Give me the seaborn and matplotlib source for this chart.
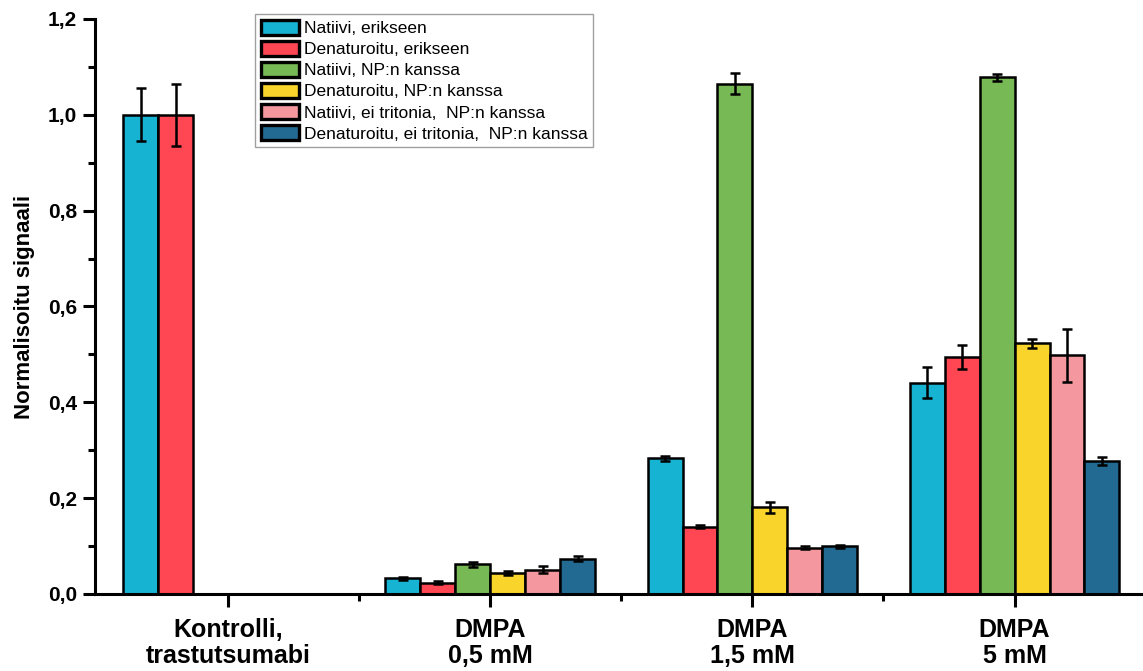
import numpy as np
import pandas as pd
import matplotlib
matplotlib.use("Agg")
import matplotlib.pyplot as plt
import seaborn as sns
from matplotlib.patches import Patch
from matplotlib.ticker import MultipleLocator, FixedLocator, FuncFormatter

# ---------------- data ----------------
groups = ["Kontrolli,\ntrastutsumabi", "DMPA\n0,5 mM", "DMPA\n1,5 mM", "DMPA\n5 mM"]
series = ["Natiivi, erikseen", "Denaturoitu, erikseen", "Natiivi, NP:n kanssa",
          "Denaturoitu, NP:n kanssa", "Natiivi, ei tritonia,  NP:n kanssa",
          "Denaturoitu, ei tritonia,  NP:n kanssa"]
colors = ["#17B3D2", "#FF4653", "#77B955", "#F9D42B", "#F4979F", "#236A93"]

nan = np.nan
natiivi_erikseen = [1.000, 0.033, 0.283, 0.441]
natiivi_erikseen_err = [0.055, 0.003, 0.006, 0.032]
denat_erikseen = [1.000, 0.024, 0.140, 0.494]
denat_erikseen_err = [0.065, 0.003, 0.003, 0.025]
natiivi_np = [nan, 0.062, 1.065, 1.078]
natiivi_np_err = [nan, 0.005, 0.022, 0.007]
denat_np = [nan, 0.044, 0.181, 0.523]
denat_np_err = [nan, 0.004, 0.011, 0.010]
natiivi_eitr = [nan, 0.051, 0.097, 0.498]
natiivi_eitr_err = [nan, 0.007, 0.003, 0.056]
denat_eitr = [nan, 0.074, 0.100, 0.277]
denat_eitr_err = [nan, 0.006, 0.003, 0.008]

values = [natiivi_erikseen, denat_erikseen, natiivi_np, denat_np, natiivi_eitr, denat_eitr]
errors = [natiivi_erikseen_err, denat_erikseen_err, natiivi_np_err, denat_np_err,
          natiivi_eitr_err, denat_eitr_err]

rows = []
for s, vals, errs in zip(series, values, errors):
    for g, v, e in zip(groups, vals, errs):
        if not np.isnan(v):
            rows.append({"group": g, "series": s, "value": v, "err": e})
df = pd.DataFrame(rows)

# ---------------- plot ----------------
sns.set_theme(style="ticks")
plt.rcParams["font.family"] = ["Liberation Sans", "DejaVu Sans"]
plt.rcParams["text.color"] = "black"
plt.rcParams["xtick.color"] = "black"
plt.rcParams["ytick.color"] = "black"
plt.rcParams["axes.labelcolor"] = "black"

fig = plt.figure(figsize=(11.43, 6.71), dpi=100)
ax = fig.add_axes([95 / 1143, 77 / 671, 1048 / 1143, 575 / 671])

sns.barplot(data=df, x="group", y="value", hue="series", order=groups,
            hue_order=series, palette=colors, edgecolor="black", linewidth=1.8,
            errorbar=None, width=0.8, saturation=1, ax=ax, legend=False)

# error bars
bar_containers = list(ax.containers)
for s_idx, cont in enumerate(bar_containers):
    s = series[s_idx]
    xs, ys, es = [], [], []
    for bar in cont:
        cx = bar.get_x() + bar.get_width() / 2
        g = groups[int(round(cx))]
        sub = df[(df.series == s) & (df.group == g)]
        if len(sub) == 0:
            continue
        xs.append(cx)
        ys.append(bar.get_height())
        es.append(sub["err"].iloc[0])
    ax.errorbar(xs, ys, yerr=es, fmt="none", ecolor="black", elinewidth=1.8,
                capsize=3.5, capthick=1.8, zorder=5)

ax.set_xlim(-0.508, 3.49)
ax.set_ylim(0, 1.2)

for sp in ["top", "right"]:
    ax.spines[sp].set_visible(False)
for sp in ["left", "bottom"]:
    ax.spines[sp].set_linewidth(2.2)
    ax.spines[sp].set_color("black")

ax.yaxis.set_major_locator(MultipleLocator(0.2))
ax.yaxis.set_minor_locator(MultipleLocator(0.1))
ax.yaxis.set_major_formatter(FuncFormatter(lambda v, p: f"{v:.1f}".replace(".", ",")))
ax.xaxis.set_minor_locator(FixedLocator([0.5, 1.5, 2.5]))

ax.tick_params(axis="both", which="major", length=9, width=2.2, direction="out",
               color="black", labelcolor="black")
ax.tick_params(axis="both", which="minor", length=5, width=2.2, direction="out", color="black")
ax.tick_params(axis="y", which="major", pad=4, labelsize=15)
ax.tick_params(axis="x", which="major", pad=8, labelsize=18)
for lab in ax.get_yticklabels():
    lab.set_fontweight("bold")
for lab in ax.get_xticklabels():
    lab.set_fontweight("bold")
    lab.set_linespacing(1.12)

ax.set_xlabel("")
ax.set_ylabel("Normalisoitu signaali", fontsize=16, fontweight="bold", labelpad=9,
              color="black")

handles = [Patch(facecolor=c, edgecolor="black", linewidth=2.4) for c in colors]
leg = ax.legend(handles, series, loc="upper left", bbox_to_anchor=(0.153, 1.008),
                fontsize=12.5, frameon=True, fancybox=False, handlelength=2.2,
                handleheight=1.0, handletextpad=0.3, labelspacing=0.25,
                borderpad=0.3, borderaxespad=0)
leg.get_frame().set_edgecolor("#888888")
leg.get_frame().set_linewidth(1.0)
for t in leg.get_texts():
    t.set_color("black")

fig.savefig("out.png", dpi=100)
